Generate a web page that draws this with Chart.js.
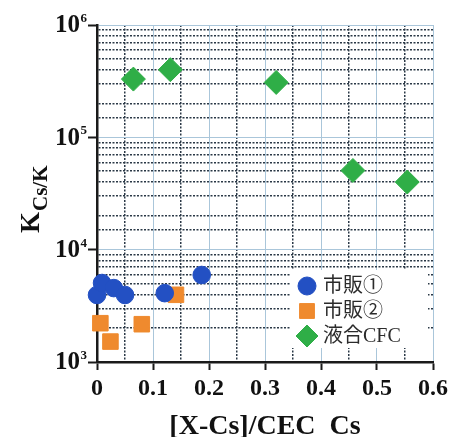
<!DOCTYPE html>
<html>
<head>
<meta charset="utf-8">
<script src="https://cdn.jsdelivr.net/npm/chart.js@4/dist/chart.umd.min.js"></script>
<style>
html,body{margin:0;padding:0;background:#fff;}
#c{display:block;}
</style>
</head>
<body>
<canvas id="c" width="464" height="437"></canvas>
<script>
// ---- data ----
const seriesNames = ['市販①', '市販②', '液合CFC'];
const s1x = [0.000, 0.009, 0.030, 0.050, 0.121, 0.187];
const s1y = [3950, 5050, 4550, 3950, 4100, 5950];
const s2x = [0.006, 0.024, 0.080, 0.141];
const s2y = [2215, 1520, 2170, 3965];
const s3x = [0.065, 0.131, 0.320, 0.457, 0.554];
const s3y = [330000, 400000, 308000, 50700, 40000];
const xMin = 0, xMax = 0.6, xStep = 0.05;
const yMin = 1e3, yMax = 1e6;
const yTickExps = [3, 4, 5, 6];
const xTitle = '[X-Cs]/CEC  Cs';
const yTitleMain = 'K';
const yTitleSub = 'Cs/K';

const colors = ['#2350c3', '#ef8a2e', '#2fae47'];
const styles = ['circle', 'rect', 'rectRot'];
const radii = [8.8, 11, 12];

const toPts = (xs, ys) => xs.map((x, i) => ({x: x, y: ys[i]}));

const SERIF = '"Liberation Serif", "Times New Roman", serif';
const isXMajor = v => Math.round(v * 20) % 2 === 0;
const isYMajor = v => Math.abs(Math.log10(v) - Math.round(Math.log10(v))) < 1e-9;
const MAJOR_GRID = '#aac6da';
const MINOR_GRID = '#2a3846';

const decorPlugin = {
  id: 'decor',
  afterDatasetsDraw(chart) {
    const ctx = chart.ctx;
    const y = chart.scales.y;
    // legend box
    ctx.save();
    ctx.fillStyle = '#ffffff';
    ctx.fillRect(290, 270, 138, 78);
    const lx = 307, ly = [286, 311, 336], tx = 323;
    for (let i = 0; i < 3; i++) {
      const r = [9, 10.5, 11][i];
      ctx.fillStyle = colors[i];
      ctx.strokeStyle = colors[i];
      ctx.lineWidth = 1;
      if (Chart.helpers && Chart.helpers.drawPoint) {
        Chart.helpers.drawPoint(ctx, {pointStyle: styles[i], radius: r, rotation: 0, borderWidth: 1}, lx, ly[i]);
      }
      ctx.fillStyle = '#2b2b2b';
      ctx.font = '20px ' + SERIF + ', "Noto Sans CJK JP"';
      ctx.textAlign = 'left';
      ctx.textBaseline = 'middle';
      ctx.fillText(seriesNames[i], tx, ly[i] + 1);
    }
    ctx.restore();

    // y tick labels 10^n
    ctx.save();
    ctx.fillStyle = '#111';
    yTickExps.forEach(e => {
      const py = y.getPixelForValue(Math.pow(10, e));
      ctx.font = 'bold 25px ' + SERIF;
      ctx.textAlign = 'right';
      ctx.textBaseline = 'middle';
      ctx.fillText('10', 80, py + 1);
      ctx.font = 'bold 13px ' + SERIF;
      ctx.textAlign = 'left';
      ctx.textBaseline = 'alphabetic';
      ctx.fillText(String(e), 80.5, py - 3);
    });
    ctx.restore();

    // y title
    ctx.save();
    ctx.fillStyle = '#111';
    ctx.translate(39, 233);
    ctx.rotate(-Math.PI / 2);
    ctx.font = 'bold 27px ' + SERIF;
    ctx.textAlign = 'left';
    ctx.textBaseline = 'alphabetic';
    ctx.fillText(yTitleMain, 0, 0);
    const kw = ctx.measureText(yTitleMain).width;
    ctx.font = 'bold 21px ' + SERIF;
    ctx.fillText(yTitleSub, kw + 1, 8);
    ctx.restore();

    // x title
    ctx.save();
    ctx.fillStyle = '#111';
    ctx.font = 'bold 28px ' + SERIF;
    ctx.textAlign = 'center';
    ctx.textBaseline = 'alphabetic';
    ctx.fillText(xTitle, 265, 434);
    ctx.restore();
  }
};

new Chart(document.getElementById('c'), {
  type: 'scatter',
  data: {
    datasets: [0, 1, 2].map(i => ({
      label: seriesNames[i],
      data: toPts([s1x, s2x, s3x][i], [s1y, s2y, s3y][i]),
      pointStyle: styles[i],
      pointRadius: radii[i],
      pointHoverRadius: radii[i],
      backgroundColor: colors[i],
      borderColor: colors[i],
      borderWidth: 1,
      clip: false
    }))
  },
  options: {
    responsive: false,
    animation: false,
    devicePixelRatio: 1,
    layout: {padding: {top: 25, right: 31, left: 0, bottom: 0}},
    plugins: {legend: {display: false}, tooltip: {enabled: false}},
    scales: {
      x: {
        type: 'linear',
        min: xMin, max: xMax,
        afterFit(s) { s.height = 75; },
        ticks: {
          stepSize: xStep,
          autoSkip: false,
          maxRotation: 0,
          padding: 4,
          color: '#111',
          font: {family: SERIF, size: 24, weight: 'bold'},
          callback: v => isXMajor(v) ? (Math.abs(v) < 1e-9 ? '0' : (Math.round(v * 10) / 10).toFixed(1)) : ''
        },
        grid: {
          color: c => (c.tick && isXMajor(c.tick.value)) ? MAJOR_GRID : MINOR_GRID,
          lineWidth: c => (c.tick && isXMajor(c.tick.value)) ? 1 : 1.5,
          tickColor: c => (c.tick && isXMajor(c.tick.value)) ? '#1a1a1a' : 'rgba(0,0,0,0)',
          tickLength: 8,
          tickWidth: 2
        },
        border: {
          display: true, color: '#1a1a1a', width: 2.5,
          dash: c => (c.tick && !isXMajor(c.tick.value)) ? [2, 1.5] : []
        }
      },
      y: {
        type: 'logarithmic',
        min: yMin, max: yMax,
        afterFit(s) { s.width = 97; },
        ticks: {display: false, autoSkip: false},
        grid: {
          color: c => (c.tick && isYMajor(c.tick.value)) ? MAJOR_GRID : MINOR_GRID,
          lineWidth: c => (c.tick && isYMajor(c.tick.value)) ? 1 : 1.5,
          tickColor: c => (c.tick && isYMajor(c.tick.value)) ? '#1a1a1a' : 'rgba(0,0,0,0)',
          tickLength: 9,
          tickWidth: 2
        },
        border: {
          display: true, color: '#1a1a1a', width: 2.5,
          dash: c => (c.tick && !isYMajor(c.tick.value)) ? [2, 1.5] : []
        }
      }
    }
  },
  plugins: [decorPlugin]
});
</script>
</body>
</html>
